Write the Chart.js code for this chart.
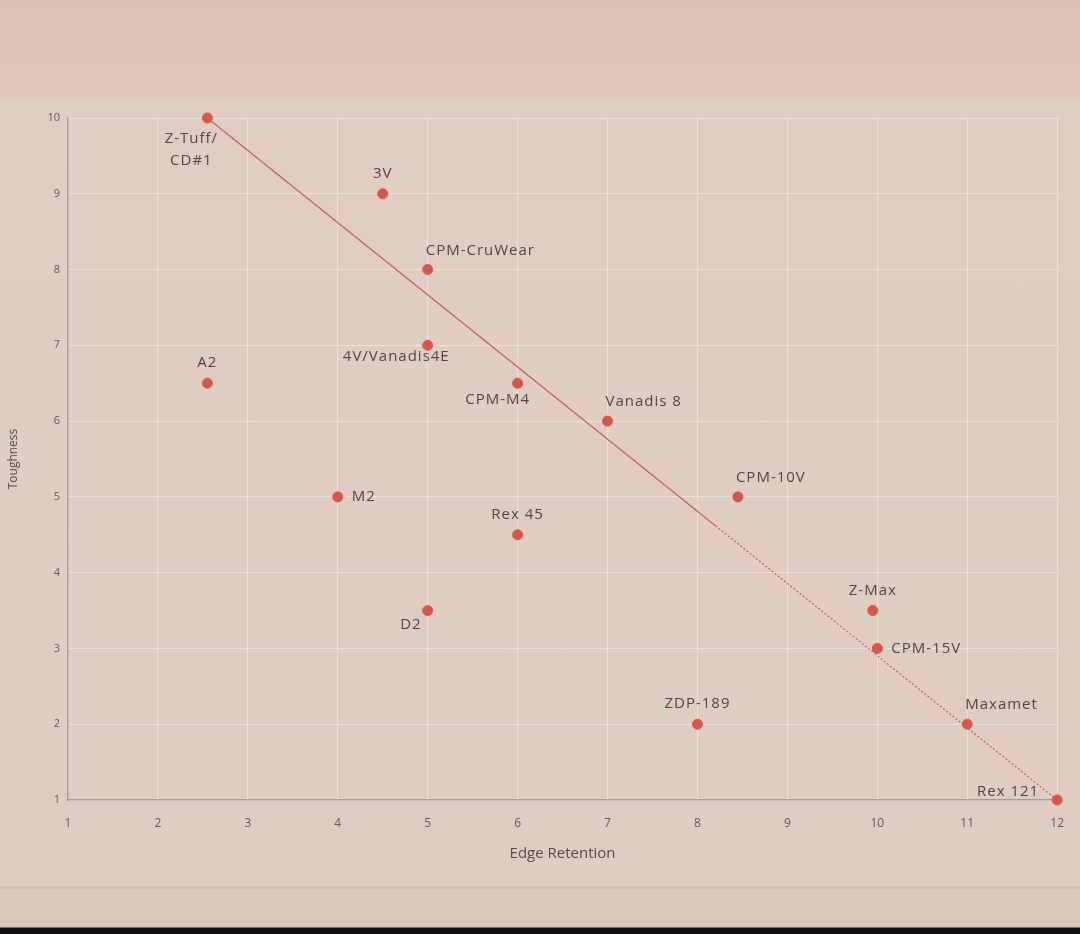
<!DOCTYPE html>
<html>
<head>
<meta charset="utf-8">
<script src="https://cdn.jsdelivr.net/npm/chart.js@4.4.1/dist/chart.umd.min.js"></script>
<style>
  html, body { margin: 0; padding: 0; }
  body {
    width: 1080px; height: 934px; overflow: hidden;
    background: linear-gradient(to bottom, #d8c3b6 0px, #dcc7ba 95px, #e1cdc2 100px, #e0ccc0 886px, #cfbcb0 888px, #dcc8bc 890px, #dac6ba 927px, #111 928px, #111 934px);
  }
  #wrap { position: relative; width: 1080px; height: 934px; }
</style>
</head>
<body>
<div id="wrap"><canvas id="steelChart" width="1080" height="934"></canvas></div>
<script>
// steel names and their scores
const steels = ["Z-Tuff/|CD#1", "3V", "CPM-CruWear", "4V/Vanadis4E", "A2", "CPM-M4", "Vanadis 8", "M2",
    "CPM-10V", "Rex 45", "D2", "Z-Max", "CPM-15V", "ZDP-189", "Maxamet", "Rex 121"];
const edgeRetention = [2.55, 4.5, 5, 5, 2.55, 6, 7, 4, 8.45, 6, 5, 9.95, 10, 8, 11, 12];
const toughness = [10, 9, 8, 7, 6.5, 6.5, 6, 5, 5, 4.5, 3.5, 3.5, 3, 2, 2, 1];

// trend line ends (solid part, then dotted part)
const trendX = [2.55, 8.2, 12];
const trendY = [10, 4.62, 1];

const xTicks = [1, 2, 3, 4, 5, 6, 7, 8, 9, 10, 11, 12];
const yTicks = [1, 2, 3, 4, 5, 6, 7, 8, 9, 10];

// where each label sits around its dot
const labelPlace = ["zTuff", "above", "upRight", "belowLeft", "above", "below", "upRight", "right",
    "upRight", "above", "belowLeft", "above", "right", "above", "upRight", "left"];

const labelColor = '#4f4745';

const pointLabels = {
    id: 'pointLabels',
    afterDatasetsDraw(chart) {
        const meta = chart.getDatasetMeta(1);
        const ctx = chart.ctx;
        ctx.save();
        ctx.font = '500 15px "Open Sans"';
        ctx.letterSpacing = '1px';
        ctx.fillStyle = labelColor;
        ctx.textBaseline = 'middle';
        meta.data.forEach((pt, i) => {
            const lines = steels[i].split('|');
            const p = labelPlace[i];
            let x = pt.x, y = pt.y;
            ctx.textAlign = 'center';
            if (p === 'above') { y -= 20; }
            else if (p === 'below') { x -= 20; y += 17; }
            else if (p === 'upRight') { ctx.textAlign = 'left'; x -= 2; y -= 19; }
            else if (p === 'belowLeft') { ctx.textAlign = 'right'; x += 22; y += 11; if (steels[i] === 'D2') { x = pt.x - 6; y = pt.y + 14; } }
            else if (p === 'right') { ctx.textAlign = 'left'; x += 14; }
            else if (p === 'left') { ctx.textAlign = 'right'; x -= 18; y -= 8; }
            else if (p === 'zTuff') { x -= 16; y += 21; }
            lines.forEach((ln, k) => ctx.fillText(ln, x, y + k * 22));
        });
        ctx.restore();
    }
};

const ctx = document.getElementById('steelChart').getContext('2d');
new Chart(ctx, {
    type: 'scatter',
    data: {
        datasets: [{
            type: 'line',
            data: trendX.map((x, i) => ({ x: x, y: trendY[i] })),
            borderColor: 'rgba(180, 85, 78, 0.9)',
            borderWidth: 1.2,
            pointRadius: 0,
            fill: false,
            clip: false,
            segment: {
                borderDash: c => c.p0DataIndex === 1 ? [2, 2] : undefined
            },
            order: 2
        }, {
            data: edgeRetention.map((x, i) => ({ x: x, y: toughness[i] })),
            backgroundColor: '#d6574b',
            borderColor: '#d6574b',
            pointRadius: 5,
            pointHoverRadius: 5,
            clip: false,
            order: 1
        }]
    },
    options: {
        responsive: false,
        animation: false,
        devicePixelRatio: 1,
        layout: { padding: { left: 0, top: 118, right: 22, bottom: 67 } },
        plugins: { legend: { display: false }, tooltip: { enabled: false } },
        scales: {
            x: {
                type: 'linear', min: 1, max: 12,
                afterFit: s => { s.height = 67; },
                afterBuildTicks: s => { s.ticks = xTicks.map(v => ({ value: v })); },
                grid: { color: 'rgba(238, 226, 219, 0.9)', drawTicks: false },
                border: { color: '#a8999a', width: 1.5 },
                ticks: { color: '#605856', padding: 16, font: { family: 'Open Sans', size: 12 } },
                title: { display: true, text: 'Edge Retention', color: '#554d4b',
                    font: { family: 'Open Sans', size: 15 }, padding: { top: 4, bottom: 4 } }
            },
            y: {
                type: 'linear', min: 1, max: 10,
                afterFit: s => { s.width = 68; },
                afterBuildTicks: s => { s.ticks = yTicks.map(v => ({ value: v })); },
                grid: { color: 'rgba(238, 226, 219, 0.9)', drawTicks: false },
                border: { color: '#a8999a', width: 1.5 },
                ticks: { color: '#605856', padding: 8, font: { family: 'Open Sans', size: 11 } },
                title: { display: true, text: 'Toughness', color: '#554d4b',
                    font: { family: 'Open Sans', size: 12 }, padding: { top: 6, bottom: 4 } }
            }
        }
    },
    plugins: [pointLabels]
});
</script>
</body>
</html>
